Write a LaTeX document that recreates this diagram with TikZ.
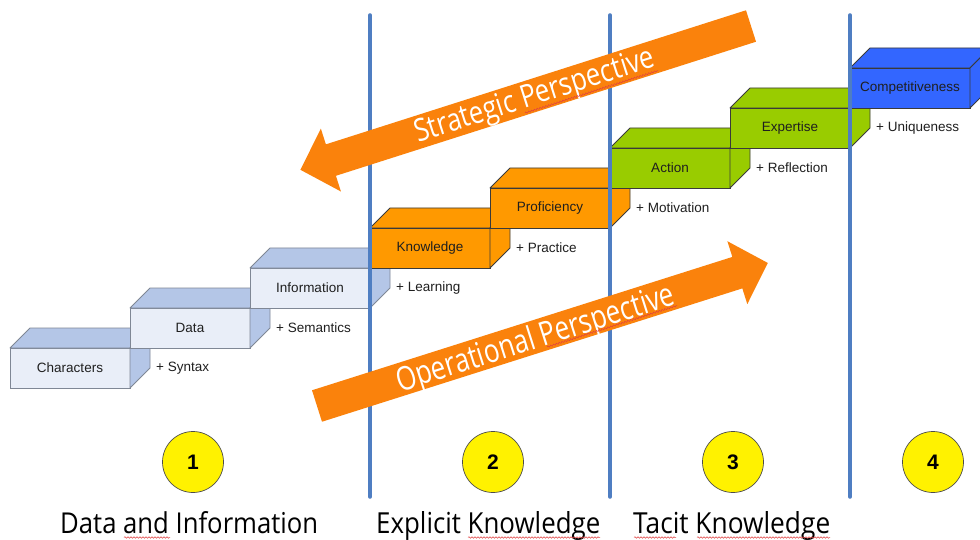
\documentclass[tikz,border=0pt]{standalone}
\usepackage{fontspec}
\setmainfont{Liberation Sans}
\newfontfamily\handfont{Open Sans}
\usetikzlibrary{decorations.pathmorphing}
\definecolor{lbfront}{HTML}{E9EEF8}
\definecolor{lbface}{HTML}{B4C6E7}
\definecolor{lbdraw}{HTML}{7F8795}
\definecolor{orfill}{HTML}{FF9900}
\definecolor{grfill}{HTML}{99CC00}
\definecolor{blfill}{HTML}{3366FF}
\definecolor{darkdraw}{HTML}{3A3A3A}
\definecolor{vlinecol}{HTML}{4F7EC2}
\definecolor{arrowcol}{HTML}{FA820C}
\definecolor{squigcol}{HTML}{E04040}
\tikzset{
  stepface/.style={rectangle, minimum width=120pt, minimum height=40pt, inner sep=0pt, outer sep=0pt,
    line width=0.8pt, font=\fontsize{13.5}{16}\selectfont, text=black!88},
  stepside/.style={line width=0.8pt, line join=round},
  steplabel/.style={anchor=west, inner sep=0pt, font=\fontsize{13.5}{16}\selectfont, text=black!88},
  vline/.style={draw=vlinecol, line width=3.5pt, line cap=round},
  numcirc/.style={circle, draw=black!70, line width=0.7pt, fill=yellow, minimum size=61pt, inner sep=0pt,
    font=\bfseries\fontsize{21}{21}\selectfont},
  arrowfill/.style={fill=arrowcol},
  arrowtext/.style={inner sep=0pt, text=white, font=\handfont},
  zonelabel/.style={anchor=base west, inner sep=0pt, font=\handfont, text=black},
  squig/.style={draw=squigcol, line width=0.5pt, decorate, decoration={snake, amplitude=0.8pt, segment length=3pt}}
}
\newcommand\drawstep[8]{%
  \node[stepface, fill=#4, draw=#6] (#1) at (#2+60,#3+20) {#7};
  \filldraw[stepside, fill=#5, draw=#6] (#1.north west) -- ++(20,-20) -- ++(120,0) -- (#1.north east) -- cycle;
  \filldraw[stepside, fill=#5, draw=#6] (#1.north east) -- ++(20,-20) -- ++(0,40) -- (#1.south east) -- cycle;
  \node[steplabel] (#1lab) at (#2+146,#3+20) {#8};
}
\begin{document}
\begin{tikzpicture}[x=1pt,y=-1pt]
\useasboundingbox (0,0) rectangle (980,540);
\fill[white] (0,0) rectangle (980,540);
% staircase
\drawstep{chars}{10}{348}{lbfront}{lbface}{lbdraw}{Characters}{+ Syntax}
\drawstep{data}{130}{308}{lbfront}{lbface}{lbdraw}{Data}{+ Semantics}
\drawstep{info}{250}{268}{lbfront}{lbface}{lbdraw}{Information}{+ Learning}
\drawstep{know}{370}{228}{orfill}{orfill}{darkdraw}{Knowledge}{+ Practice}
\drawstep{prof}{490}{188}{orfill}{orfill}{darkdraw}{Proficiency}{+ Motivation}
\drawstep{act}{610}{148}{grfill}{grfill}{darkdraw}{Action}{+ Reflection}
\drawstep{exp}{730}{108}{grfill}{grfill}{darkdraw}{Expertise}{+ Uniqueness}
\node[stepface, fill=blfill, draw=darkdraw] (comp) at (910,88) {Competitiveness};
\filldraw[stepside, fill=blfill, draw=darkdraw] (comp.north west) -- ++(20,-20) -- ++(120,0) -- (comp.north east) -- cycle;
\filldraw[stepside, fill=blfill, draw=darkdraw] (comp.north east) -- ++(20,-20) -- ++(0,40) -- (comp.south east) -- cycle;
% vertical separators
\coordinate (v1t) at (370,15); \coordinate (v1b) at (370,497);
\coordinate (v2t) at (610,15); \coordinate (v2b) at (610,497);
\coordinate (v3t) at (850,15); \coordinate (v3b) at (850,497);
\draw[vline] (v1t) -- (v1b);
\draw[vline] (v2t) -- (v2b);
\draw[vline] (v3t) -- (v3b);
% strategic arrow
\begin{scope}[shift={(751,26)}, rotate=197.7]
  \fill[arrowfill] (0,-16.5) -- (441,-16.5) -- (441,-33) -- (473,0) -- (441,33) -- (441,16.5) -- (0,16.5) -- cycle;
\end{scope}
\node[arrowtext, rotate=17.7] (strat) at (535,97) {\resizebox{250pt}{23pt}{Strategic Perspective}};
% operational arrow
\begin{scope}[shift={(317,406)}, rotate=17.6]
  \fill[arrowfill] (0,-16.5) -- (441,-16.5) -- (441,-33) -- (473,0) -- (441,33) -- (441,16.5) -- (0,16.5) -- cycle;
\end{scope}
\node[arrowtext, rotate=17.6] (oper) at (536,340) {\resizebox{290pt}{25pt}{Operational Perspective}};
\draw[squig] (525,113) -- (658,70.5);
\draw[squig] (547,347) -- (677,305.5);
% numbered circles
\node[numcirc] (n1) at (193,462) {1};
\node[numcirc] (n2) at (493,462) {2};
\node[numcirc] (n3) at (733,462) {3};
\node[numcirc] (n4) at (933,462) {4};
% zone labels
\node[zonelabel] (z1) at (60,533) {\resizebox{258pt}{22pt}{Data and Information}};
\node[zonelabel] (z2) at (376,533) {\resizebox{224pt}{22pt}{Explicit Knowledge}};
\node[zonelabel] (z3) at (633,533) {\resizebox{197pt}{22pt}{Tacit Knowledge}};
\draw[squig] (124,537.5) -- (170,537.5);
\draw[squig] (468,537.5) -- (600,537.5);
\draw[squig] (634,537.5) -- (676,537.5);
\draw[squig] (697,537.5) -- (830,537.5);
\end{tikzpicture}
\end{document}
